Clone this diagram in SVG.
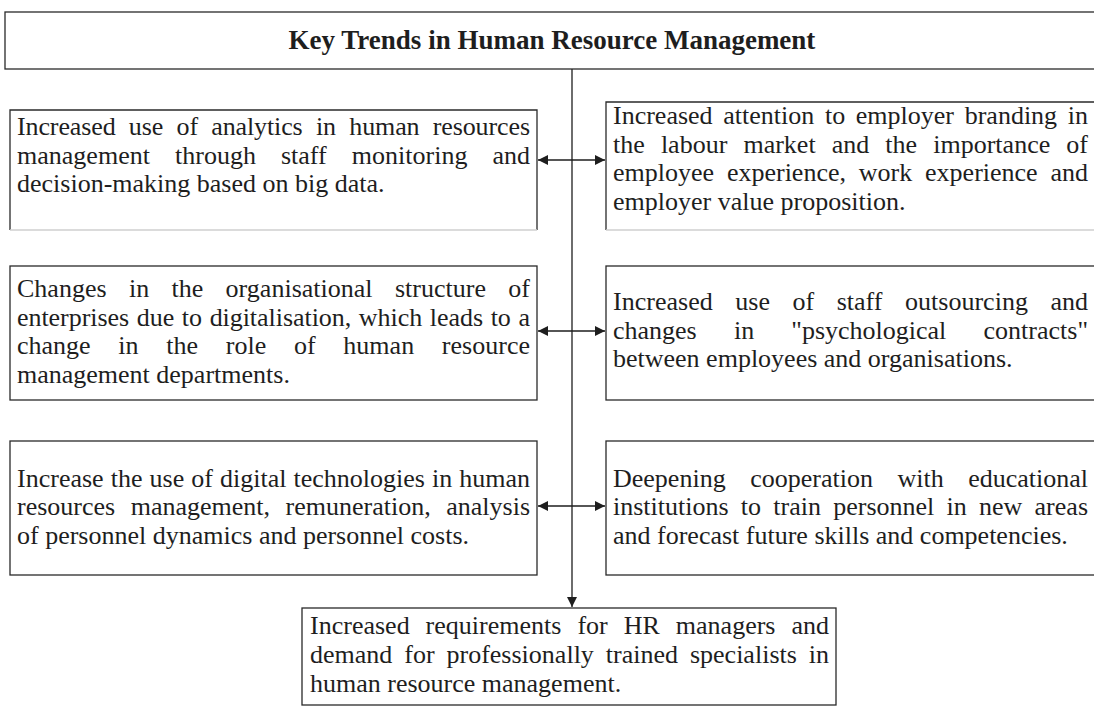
<svg xmlns="http://www.w3.org/2000/svg" width="1094" height="709" viewBox="0 0 1094 709">
  <style>
    .box { fill: #ffffff; stroke: #2a2a2a; stroke-width: 1.3; }
    .edge { fill: none; stroke: #2a2a2a; stroke-width: 1.3; }
    .faint { fill: none; stroke: #cfcfcf; stroke-width: 1.3; }
    .t { font-family: "Liberation Serif", "Times New Roman", serif; font-size: 26px; fill: #1e1e1e; }
    .title { font-family: "Liberation Serif", "Times New Roman", serif; font-size: 27px; font-weight: bold; fill: #1e1e1e; }
    .link { stroke: #1e1e1e; stroke-width: 1.3; fill: none; }
  </style>
  <defs>
    <marker id="head" viewBox="0 0 10 10" refX="10" refY="5" markerWidth="10" markerHeight="10" markerUnits="userSpaceOnUse" orient="auto-start-reverse">
      <path d="M0,0 L10,5 L0,10 z" fill="#1e1e1e"/>
    </marker>
  </defs>
  <rect width="1094" height="709" fill="#ffffff"/>

  <g id="connectors">
    <path class="link" d="M572,69 V607" marker-end="url(#head)"/>
    <path class="link" d="M538,160 H605" marker-start="url(#head)" marker-end="url(#head)"/>
    <path class="link" d="M538,331 H605" marker-start="url(#head)" marker-end="url(#head)"/>
    <path class="link" d="M538,506 H605" marker-start="url(#head)" marker-end="url(#head)"/>
  </g>

  <g id="title">
    <rect class="box" x="5" y="12" width="1100" height="57"/>
    <text class="title" x="552" y="49" text-anchor="middle">Key Trends in Human Resource Management</text>
  </g>

  <g id="analytics">
    <path class="edge" d="M10,230 V110 H537 V230"/>
    <path class="faint" d="M10,230 H537"/>
    <text class="t" x="17" y="135" word-spacing="6.95" textLength="513" lengthAdjust="spacing">Increased use of analytics in human resources</text>
    <text class="t" x="17" y="163.5" word-spacing="18.5" textLength="513" lengthAdjust="spacing">management through staff monitoring and</text>
    <text class="t" x="17" y="192">decision-making based on big data.</text>
  </g>

  <g id="branding">
    <path class="edge" d="M606,230 V102 H1100"/>
    <path class="faint" d="M606,230 H1100"/>
    <text class="t" x="613" y="124" word-spacing="4.16" textLength="475" lengthAdjust="spacing">Increased attention to employer branding in</text>
    <text class="t" x="613" y="152.5" word-spacing="9.6" textLength="475" lengthAdjust="spacing">the labour market and the importance of</text>
    <text class="t" x="613" y="181" word-spacing="6.3" textLength="475" lengthAdjust="spacing">employee experience, work experience and</text>
    <text class="t" x="613" y="209.5">employer value proposition.</text>
  </g>

  <g id="structure">
    <rect class="box" x="10" y="266" width="527" height="134"/>
    <text class="t" x="17" y="297" word-spacing="15.8" textLength="513" lengthAdjust="spacing">Changes in the organisational structure of</text>
    <text class="t" x="17" y="325.5" word-spacing="1.24" textLength="513" lengthAdjust="spacing">enterprises due to digitalisation, which leads to a</text>
    <text class="t" x="17" y="354" word-spacing="21.2" textLength="513" lengthAdjust="spacing">change in the role of human resource</text>
    <text class="t" x="17" y="382.5">management departments.</text>
  </g>

  <g id="outsourcing">
    <rect class="box" x="606" y="266" width="500" height="134"/>
    <text class="t" x="613" y="310" word-spacing="16" textLength="475" lengthAdjust="spacing">Increased use of staff outsourcing and</text>
    <text class="t" x="613" y="338.5" word-spacing="30.7" textLength="475" lengthAdjust="spacing">changes in "psychological contracts"</text>
    <text class="t" x="613" y="367">between employees and organisations.</text>
  </g>

  <g id="digital">
    <rect class="box" x="10" y="441" width="527" height="134"/>
    <text class="t" x="17" y="486.5" word-spacing="0.56" textLength="513" lengthAdjust="spacing">Increase the use of digital technologies in human</text>
    <text class="t" x="17" y="515" word-spacing="9" textLength="513" lengthAdjust="spacing">resources management, remuneration, analysis</text>
    <text class="t" x="17" y="543.5">of personnel dynamics and personnel costs.</text>
  </g>

  <g id="education">
    <rect class="box" x="606" y="441" width="500" height="134"/>
    <text class="t" x="613" y="486.5" word-spacing="18" textLength="475" lengthAdjust="spacing">Deepening cooperation with educational</text>
    <text class="t" x="613" y="515" word-spacing="5.75" textLength="475" lengthAdjust="spacing">institutions to train personnel in new areas</text>
    <text class="t" x="613" y="543.5">and forecast future skills and competencies.</text>
  </g>

  <g id="requirements">
    <rect class="box" x="302" y="608" width="534" height="97"/>
    <text class="t" x="310" y="634" word-spacing="9.5" textLength="519" lengthAdjust="spacing">Increased requirements for HR managers and</text>
    <text class="t" x="310" y="663" word-spacing="5.4" textLength="519" lengthAdjust="spacing">demand for professionally trained specialists in</text>
    <text class="t" x="310" y="691.5">human resource management.</text>
  </g>
</svg>
